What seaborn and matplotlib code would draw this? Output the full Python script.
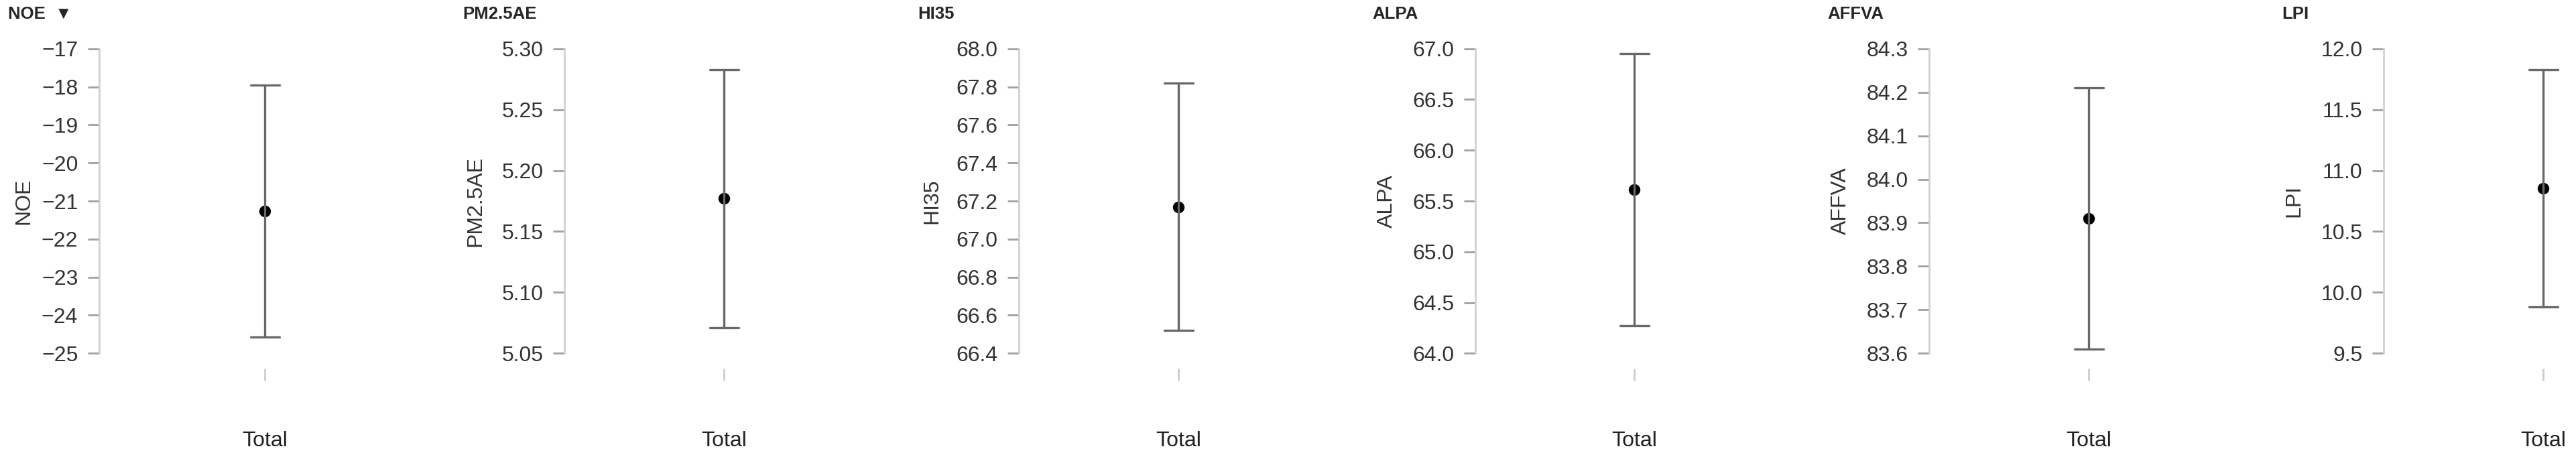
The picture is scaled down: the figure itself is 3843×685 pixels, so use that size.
import pandas as pd
import numpy as np
import seaborn as sns
import matplotlib.pyplot as plt

# one panel per indicator, each with a single "Total" group
names = ["NOE", "PM2.5AE", "HI35", "ALPA", "AFFVA", "LPI"]
titles = ["NOE  \u25BC", "PM2.5AE", "HI35", "ALPA", "AFFVA", "LPI"]
group = "Total"
means = [-21.26, 5.177, 67.17, 65.61, 83.91, 10.855]
lowers = [-24.58, 5.071, 66.52, 64.27, 83.61, 9.88]
uppers = [-17.95, 5.283, 67.82, 66.95, 84.21, 11.83]
y_ticks = [
    [-25, -24, -23, -22, -21, -20, -19, -18, -17],
    [5.05, 5.10, 5.15, 5.20, 5.25, 5.30],
    [66.4, 66.6, 66.8, 67.0, 67.2, 67.4, 67.6, 67.8, 68.0],
    [64.0, 64.5, 65.0, 65.5, 66.0, 66.5, 67.0],
    [83.6, 83.7, 83.8, 83.9, 84.0, 84.1, 84.2, 84.3],
    [9.5, 10.0, 10.5, 11.0, 11.5, 12.0],
]

# layout (pixels of the 3843x685 output)
W, H = 3843, 685
PT = 0.72  # points per pixel at dpi 100
spine_px = [148, 842, 1520, 2201, 2878, 3556]
bar_px = [395, 1080, 1758, 2438, 3116, 3794]
title_px = [12, 690, 1369, 2047, 2726, 3404]
ylabel_gap_px = [12, 24, 21, 23, 23, 25]
top_px, bottom_px = 72.7, 527.3

sns.set_style("ticks")
plt.rcParams["font.family"] = ["Liberation Sans", "DejaVu Sans"]

fig = plt.figure(figsize=(W / 100, H / 100), dpi=100)

for i, name in enumerate(names):
    left = spine_px[i]
    width = 2 * (bar_px[i] - spine_px[i])
    ax = fig.add_axes([left / W, 1 - bottom_px / H, width / W, (bottom_px - top_px) / H])

    # lower, mean, upper -> median is the mean, min/max are the interval ends
    df = pd.DataFrame({"group": [group] * 3, "value": [lowers[i], means[i], uppers[i]]})
    sns.pointplot(data=df, x="group", y="value", ax=ax, color="black",
                  estimator=np.median, errorbar=("pi", 100),
                  capsize=43 / width,
                  err_kws={"color": "#686868", "linewidth": 2.4},
                  markersize=10.5)

    ax.set_ylim(y_ticks[i][0], y_ticks[i][-1])
    ax.set_yticks(y_ticks[i])
    ax.ticklabel_format(axis="y", useOffset=False)
    ax.set_xlabel("")
    ax.set_ylabel(name, fontsize=23, color="#333333", labelpad=ylabel_gap_px[i] * PT)

    for s in ["top", "right", "bottom"]:
        ax.spines[s].set_visible(False)
    ax.spines["bottom"].set_position(("outward", 22.7 * PT))
    ax.spines["left"].set_color("#d0d0d0")
    ax.spines["left"].set_linewidth(2.0)

    ax.tick_params(axis="y", length=16.6 * PT, width=2.0, color="#a0a0a0",
                   labelsize=23, labelcolor="#333333", pad=15 * PT)
    ax.tick_params(axis="x", length=18 * PT, width=2.0, color="#cccccc",
                   labelsize=23, labelcolor="#222222", pad=75 * PT)

    ax.annotate(titles[i], xy=(0, 1), xycoords="axes fraction",
                xytext=((title_px[i] - spine_px[i]) * PT, (top_px - 21) * PT),
                textcoords="offset points", ha="left", va="center",
                fontsize=18.5, fontweight="bold",
                annotation_clip=False)

fig.savefig("out.png", dpi=100)
